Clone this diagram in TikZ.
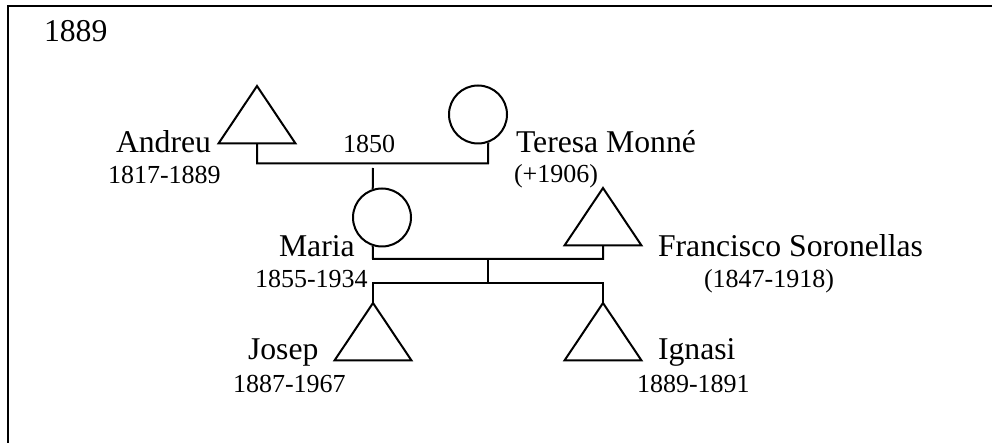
\documentclass[tikz,border=0pt]{standalone}
\usepackage{fontspec}
\setmainfont{Liberation Serif}
\begin{document}
\begin{tikzpicture}[x=0.5pt,y=-0.5pt,
  line width=1pt,
  plabel/.style={anchor=base west,inner sep=0pt,font=\fontsize{15.85}{18}\selectfont},
  dlabel/.style={anchor=base west,inner sep=0pt,font=\fontsize{13}{15}\selectfont},
  fem/.style={circle,draw,minimum size=29pt,inner sep=0pt},
  tri/.pic={\draw (0,0) -- (38.5,57.5) -- (-38.5,57.5) -- cycle;
            \coordinate (-apex) at (0,0);
            \coordinate (-base) at (0,57.5);}
]
\useasboundingbox (0,0) rectangle (992,443);
\begin{scope}
\clip (0,0) rectangle (992,443);
\draw (7.5,6) rectangle (1010,460);
\end{scope}

\node[plabel] (year) at (43,42) {1889};

% generation 1
\pic (andreu) at (257,86) {tri};
\node[fem] (teresa) at (478,114.5) {};
\node[plabel] (andreuN) at (115,153) {Andreu};
\node[dlabel] (andreuD) at (107,184) {1817-1889};
\node[plabel] (teresaN) at (515,153) {Teresa Monné};
\node[dlabel] (teresaD) at (513,183) {(+1906)};
\node[dlabel] (marr) at (342,153) {1850};
\coordinate (m1) at (257,163.5);
\coordinate (m2) at (488,163.5);
\draw (andreu-base) -- (m1) -- (m2) -- (teresa.-70);

% generation 2
\coordinate (mtop) at (373,168);
\node[fem] (maria) at (382,217.5) {};
\draw (mtop) -- (maria.-252);
\pic (fran) at (603,188) {tri};
\node[plabel] (mariaN) at (278,257) {Maria};
\node[dlabel] (mariaD) at (254,288) {1855-1934};
\node[plabel] (franN) at (657,257) {Francisco Soronellas};
\node[dlabel] (franD) at (703,288) {(1847-1918)};
\coordinate (f1) at (373,259);
\coordinate (f2) at (603,259);
\coordinate (fmid) at (488,259);
\coordinate (cmid) at (488,283);
\draw (maria.-108) -- (f1) -- (f2) -- (fran-base);
\draw (fmid) -- (cmid);

% generation 3
\pic (josep) at (373,303) {tri};
\pic (ignasi) at (603,303) {tri};
\coordinate (c1) at (373,283);
\coordinate (c2) at (603,283);
\draw (josep-apex) -- (c1) -- (c2) -- (ignasi-apex);
\node[plabel] (josepN) at (247,360) {Josep};
\node[dlabel] (josepD) at (232,393) {1887-1967};
\node[plabel] (ignasiN) at (657,360) {Ignasi};
\node[dlabel] (ignasiD) at (636,393) {1889-1891};
\end{tikzpicture}
\end{document}
